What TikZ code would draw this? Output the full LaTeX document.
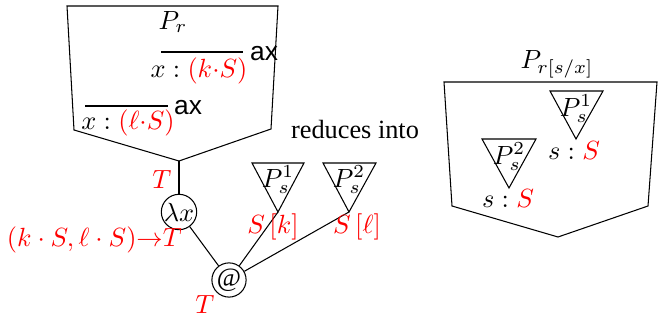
\documentclass[tikz,border=0pt]{standalone}
\usepackage{fontspec}
\setmainfont{Liberation Serif}
\setsansfont{Liberation Sans}
\usepackage{tikz}
\usetikzlibrary{positioning}

\begin{document}
\begin{tikzpicture}[x=0.38pt, y=-0.38pt,
  term/.style={draw, circle, minimum size=13pt, inner sep=0pt},
  lbl/.style={text=red, inner sep=1pt},
  axname/.style={font=\sffamily, inner sep=1pt, anchor=west},
]
  \useasboundingbox (0,0) rectangle (664,324);

  % proof P_r before the reduction
  \draw (67,6) -- (278,6) -- (271,129) -- (179,161) coordinate (rtip) -- (74,130) -- cycle;
  \node (pr) at (173,22) {$P_r$};
  \draw (161,52) coordinate (ax1a) -- (243,52) coordinate (ax1b);
  \node[axname] (ax1) at (247,54) {ax};
  \node (c1) at (199,71) {$x : \textcolor{red}{(k{\cdot}S)}$};
  \draw (85,106) coordinate (ax2a) -- (168,106) coordinate (ax2b);
  \node[axname] (ax2) at (171,108) {ax};
  \node (c2) at (128,123) {$x : \textcolor{red}{(\ell{\cdot}S)}$};

  % the redex
  \node[term] (lam) at (179,212) {$\lambda x$};
  \node[term] (app) at (229,280) {$@$};
  \draw (rtip) -- (lam);
  \draw (lam) -- (app);

  % proofs of s
  \draw (252,163) -- (304,163) -- (278,212) coordinate (s1tip) -- cycle;
  \node (ps1) at (278,180) {$P_s^1$};
  \draw (323,163) -- (376,163) -- (349,212) coordinate (s2tip) -- cycle;
  \node (ps2) at (349,180) {$P_s^2$};
  \draw (app) -- (s1tip);
  \draw (app) -- (s2tip);

  % types
  \node[lbl] (tr) at (162,180) {$T$};
  \node[lbl, anchor=east] (tlam) at (185,240) {$(k\cdot S,\ell\cdot S){\to} T$};
  \node[lbl] (tapp) at (205,305) {$T$};
  \node[lbl] (sk) at (273,227) {$S\,[k]$};
  \node[lbl] (sl) at (357,227) {$S\,[\ell]$};

  \node (red) at (355,130) {reduces into};

  % proof P_r[s/x] after the reduction
  \draw (444,82) -- (657,82) -- (648,206) -- (558,237) -- (452,206) -- cycle;
  \node (prs) at (557,64) {$P_{r[s/x]}$};
  \draw (550,91) -- (603,91) -- (576,139) coordinate (t1tip) -- cycle;
  \node (qs1) at (576,109) {$P_s^1$};
  \node (e1) at (574,151) {$s : \textcolor{red}{S}$};
  \draw (482,139) -- (536,139) -- (509,188) coordinate (t2tip) -- cycle;
  \node (qs2) at (509,157) {$P_s^2$};
  \node (e2) at (508,199) {$s : \textcolor{red}{S}$};
\end{tikzpicture}
\end{document}
